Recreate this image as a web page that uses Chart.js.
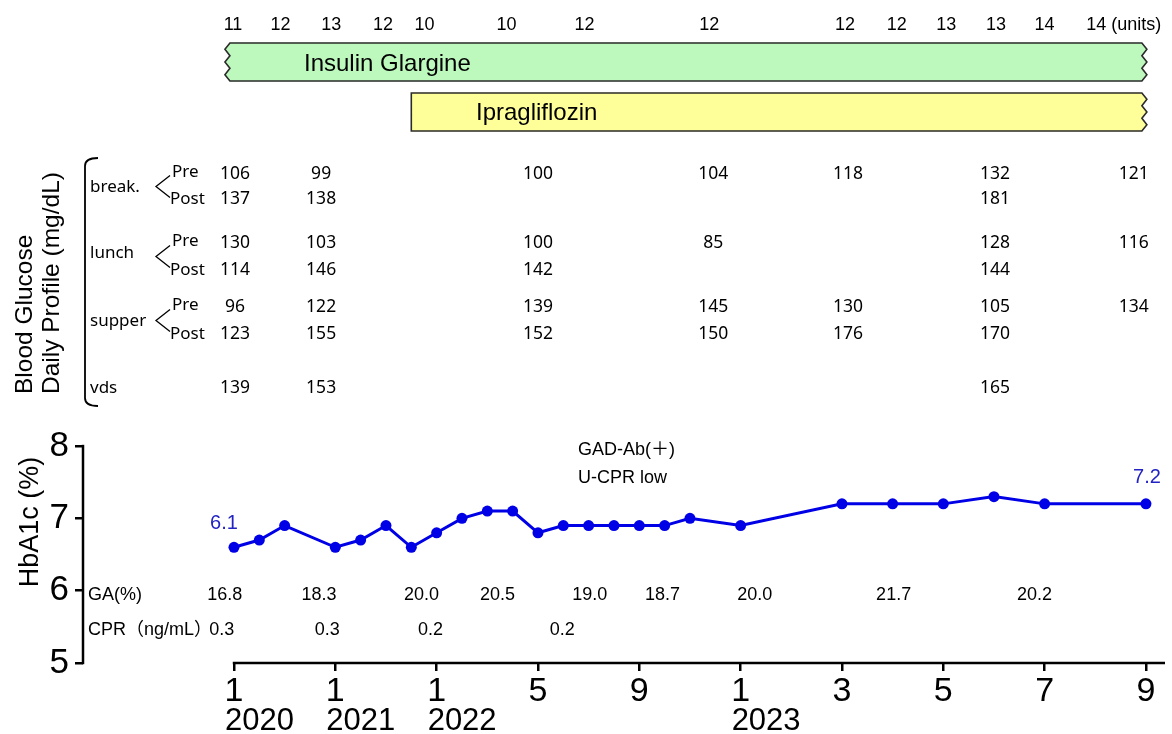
<!DOCTYPE html>
<html><head><meta charset="utf-8">
<script src="https://cdn.jsdelivr.net/npm/chart.js@4.4.1/dist/chart.umd.min.js"></script>
<style>html,body{margin:0;padding:0;background:#fff;}</style>
</head><body>
<canvas id="c" width="1172" height="734"></canvas>
<script>
// ---------------- DATA ----------------
// time axis: index positions 0..9 = tick marks
const xTickMonths = ['1','1','1','5','9','1','3','5','7','9'];
const xTickYears  = ['2020','2021','2022','','','2023','','','',''];

// HbA1c (%)
const hba1cX = [0,0.25,0.5,1,1.25,1.5,1.75,2,2.25,2.5,2.75,3,3.25,3.5,3.75,4,4.25,4.5,5,6,6.5,7,7.5,8,9];
const hba1cY = [6.6,6.7,6.9,6.6,6.7,6.9,6.6,6.8,7.0,7.1,7.1,6.8,6.9,6.9,6.9,6.9,6.9,7.0,6.9,7.2,7.2,7.2,7.3,7.2,7.2];
const hba1cNotes = ['6.1','7.2'];        // annotated values (first / last)

// Insulin doses (units)
const doseX     = [-0.01,0.46,0.96,1.47,1.88,2.69,3.46,4.69,6.03,6.54,7.03,7.52,8.0,8.51];
const doseUnits = [11,12,13,12,10,10,12,12,12,12,13,13,14,14];

// Drugs
const drugNames    = ['Insulin Glargine','Ipragliflozin'];
const drugStart    = [-0.04, 1.75];
const drugEnd      = [8.96, 8.96];
const drugOpenLeft = [true, false];
const drugColors   = ['#bdf9bd','#ffff99'];

// Blood glucose daily profile (mg/dL)
const glucoseX   = [0.01, 0.86, 3.0, 4.73, 6.06, 7.51, 8.88];
const breakPre   = [106, 99, 100, 104, 118, 132, 121];
const breakPost  = [137, 138, null, null, null, 181, null];
const lunchPre   = [130, 103, 100, 85, null, 128, 116];
const lunchPost  = [114, 146, 142, null, null, 144, null];
const supperPre  = [96, 122, 139, 145, 130, 105, 134];
const supperPost = [123, 155, 152, 150, 176, 170, null];
const vdsValues  = [139, 153, null, null, null, 165, null];

// GA and CPR
const gaX      = [-0.09,0.84,1.85,2.6,3.51,4.23,5.14,6.51,7.9];
const gaValues = ['16.8','18.3','20.0','20.5','19.0','18.7','20.0','21.7','20.2'];
const cprX      = [-0.12,0.92,1.94,3.24];
const cprValues = ['0.3','0.3','0.2','0.2'];

// ---------------- LAYOUT (row positions on hidden row scale, 1 unit = 10px) ----------------
const ROW = { units: 2.5, drugs: [6.2, 11.2],
  breakPre: 17.4, breakPost: 19.9, lunchPre: 24.3, lunchPost: 27.0,
  supperPre: 30.7, supperPost: 33.4, vds: 38.8, ga: 59.5, cpr: 63.0 };

const SANS = '"Liberation Sans", Arial, "Noto Sans CJK JP", sans-serif';
const ROUND = '"Noto Sans", "Noto Sans CJK JP", sans-serif';

function zig(c, xe, y0, y1, dir, amp) {
  const n = 6;
  for (let k = 1; k <= n; k++) {
    const yy = y0 + (y1 - y0) * k / n;
    c.lineTo(xe + ((k % 2) ? dir * amp : 0), yy);
  }
}

const wavyPlugin = {
  id: 'wavy',
  afterDatasetDraw(chart, args) {
    if (args.index !== 0) return;
    const c = chart.ctx;
    args.meta.data.forEach((el, i) => {
      const p = el.getProps(['x','base','y','height'], true);
      const l = Math.min(p.x, p.base), r = Math.max(p.x, p.base);
      const t = p.y - p.height / 2, b = p.y + p.height / 2;
      c.save();
      c.beginPath();
      c.moveTo(l, t);
      c.lineTo(r, t);
      zig(c, r, t, b, 1, 5);
      c.lineTo(l, b);
      if (drugOpenLeft[i]) zig(c, l, b, t, -1, 5); else c.lineTo(l, t);
      c.closePath();
      c.fillStyle = drugColors[i];
      c.fill();
      c.lineWidth = 1.6;
      c.strokeStyle = '#2b2b2b';
      c.lineJoin = 'miter';
      c.stroke();
      c.restore();
    });
  }
};

const annotPlugin = {
  id: 'annot',
  afterDraw(chart) {
    const c = chart.ctx;
    const xs = chart.scales.x, ys = chart.scales.y, yr = chart.scales.yRow;
    const X = v => xs.getPixelForValue(v);
    const R = v => yr.getPixelForValue(v);
    const ca = chart.chartArea;
    c.save();
    c.fillStyle = '#000';
    c.strokeStyle = '#000';
    // axis lines
    c.lineWidth = 2.5;
    c.beginPath();
    c.moveTo(ca.left, ys.getPixelForValue(8) - 1.2);
    c.lineTo(ca.left, ys.getPixelForValue(5) + 1.2);
    c.stroke();
    c.beginPath();
    c.moveTo(X(0) - 1.2, ca.bottom);
    c.lineTo(ca.right, ca.bottom);
    c.stroke();

    // year labels
    c.font = '31px ' + SANS;
    c.textAlign = 'left'; c.textBaseline = 'middle';
    xTickYears.forEach((t, i) => { if (t) c.fillText(t, X(i) - 9, 721); });

    // y title
    c.save();
    c.translate(31, 522); c.rotate(-Math.PI / 2);
    c.font = '27px ' + SANS; c.textAlign = 'center'; c.textBaseline = 'middle';
    c.fillText('HbA1c (%)', 0, 0);
    c.restore();

    // Blood glucose title
    c.save();
    c.translate(25, 394); c.rotate(-Math.PI / 2);
    c.font = '24.5px ' + SANS; c.textAlign = 'left'; c.textBaseline = 'middle';
    c.fillText('Blood Glucose', 0, 0);
    c.fillText('Daily Profile (mg/dL)', 0, 27);
    c.restore();

    // bracket
    c.lineWidth = 1.8;
    c.beginPath();
    c.moveTo(98, 158); c.quadraticCurveTo(85, 158, 85, 166);
    c.lineTo(85, 398); c.quadraticCurveTo(85, 406, 98, 406);
    c.stroke();

    // units row
    c.font = '18px ' + SANS; c.textAlign = 'center'; c.textBaseline = 'middle';
    doseUnits.forEach((u, i) => c.fillText(String(u), X(doseX[i]), R(ROW.units)));
    const lastW = c.measureText(String(doseUnits[doseUnits.length - 1])).width;
    c.textAlign = 'left';
    c.fillText('(units)', X(doseX[doseX.length - 1]) + lastW / 2 + 5, R(ROW.units));

    // drug names
    c.font = '24px ' + SANS; c.textAlign = 'left';
    c.fillText(drugNames[0], 304, R(ROW.drugs[0]) + 2);
    c.fillText(drugNames[1], 476, R(ROW.drugs[1]) + 1);

    // glucose table labels
    c.font = '17px ' + ROUND; c.textAlign = 'left';
    c.fillText('break.', 90, 187);
    c.fillText('lunch', 90, 253);
    c.fillText('supper', 90, 321);
    c.fillText('vds', 90, 388);
    [[ROW.breakPre, ROW.breakPost], [ROW.lunchPre, ROW.lunchPost], [ROW.supperPre, ROW.supperPost]].forEach(([a, b]) => {
      c.fillText('Pre', 172, R(a) - 2);
      c.fillText('Post', 170, R(b));
      const ym = (R(a) + R(b)) / 2;
      c.lineWidth = 1.3;
      c.beginPath();
      c.moveTo(170, ym - 11); c.lineTo(156, ym); c.lineTo(170, ym + 11);
      c.stroke();
    });
    c.textAlign = 'center';
    c.font = '17.5px ' + ROUND;
    const rows = [[breakPre, ROW.breakPre], [breakPost, ROW.breakPost], [lunchPre, ROW.lunchPre],
      [lunchPost, ROW.lunchPost], [supperPre, ROW.supperPre], [supperPost, ROW.supperPost], [vdsValues, ROW.vds]];
    rows.forEach(([arr, r]) => arr.forEach((v, i) => { if (v != null) c.fillText(String(v), X(glucoseX[i]), R(r)); }));

    // GA / CPR
    c.font = '18px ' + SANS; c.textAlign = 'left';
    c.fillText('GA(%)', 88, R(ROW.ga));
    c.fillText('CPR（ng/mL）', 88, R(ROW.cpr));
    c.textAlign = 'center';
    gaValues.forEach((v, i) => c.fillText(v, X(gaX[i]), R(ROW.ga)));
    cprValues.forEach((v, i) => c.fillText(v, X(cprX[i]), R(ROW.cpr)));

    // GAD notes
    c.textAlign = 'left';
    c.fillText('GAD-Ab(＋)', 578, 450);
    c.fillText('U-CPR low', 578, 478);

    // HbA1c value notes
    c.fillStyle = '#2323c4';
    c.font = '20px ' + SANS; c.textAlign = 'center';
    c.fillText(hba1cNotes[0], X(hba1cX[0]) - 10, ys.getPixelForValue(hba1cY[0]) - 24);
    c.fillText(hba1cNotes[1], X(hba1cX[hba1cX.length - 1]) + 1, ys.getPixelForValue(hba1cY[hba1cY.length - 1]) - 26);
    c.restore();
  }
};

new Chart(document.getElementById('c'), {
  type: 'line',
  data: {
    datasets: [
      {
        type: 'bar', indexAxis: 'y', xAxisID: 'x', yAxisID: 'yRow',
        data: drugNames.map((n, i) => ({ y: ROW.drugs[i], x: [drugStart[i], drugEnd[i]] })),
        backgroundColor: drugColors, borderWidth: 0, barThickness: 38, grouped: false
      },
      {
        type: 'line', xAxisID: 'x', yAxisID: 'y',
        data: hba1cX.map((x, i) => ({ x, y: hba1cY[i] })),
        borderColor: '#0000e6', backgroundColor: '#0000e6',
        borderWidth: 3, pointRadius: 5.5, pointBorderWidth: 0, tension: 0, fill: false
      }
    ]
  },
  options: {
    responsive: false, animation: false,
    layout: { autoPadding: false, padding: { left: 0, right: 7, top: 0, bottom: 0 } },
    plugins: { legend: { display: false }, tooltip: { enabled: false } },
    scales: {
      x: {
        type: 'linear', min: -1.49, max: 9.188, position: 'bottom', offset: false,
        afterBuildTicks: s => { s.ticks = xTickMonths.map((_, i) => ({ value: i })); },
        ticks: { callback: (v, i) => xTickMonths[i], font: { family: SANS, size: 34 }, color: '#000', padding: 0, maxRotation: 0, autoSkip: false },
        grid: { display: true, drawOnChartArea: false, drawTicks: true, tickLength: 8, color: '#000', lineWidth: 2.5 },
        border: { display: false },
        afterFit: s => { s.height = 71; s.paddingLeft = 0; s.paddingRight = 0; }
      },
      y: {
        type: 'linear', min: 5, max: 14.166, position: 'left',
        afterBuildTicks: s => { s.ticks = [5, 6, 7, 8].map(v => ({ value: v })); },
        ticks: { font: { family: SANS, size: 35 }, color: '#000', padding: 6 },
        grid: { display: true, drawOnChartArea: false, drawTicks: true, tickLength: 8, color: '#000', lineWidth: 2.5 },
        border: { display: false },
        afterFit: s => { s.width = 83; s.paddingTop = 0; s.paddingBottom = 0; }
      },
      yRow: { type: 'linear', min: 0, max: 66.3, reverse: true, display: false, offset: false,
        afterFit: s => { s.paddingTop = 0; s.paddingBottom = 0; } }
    }
  },
  plugins: [wavyPlugin, annotPlugin]
});
</script>
</body></html>
